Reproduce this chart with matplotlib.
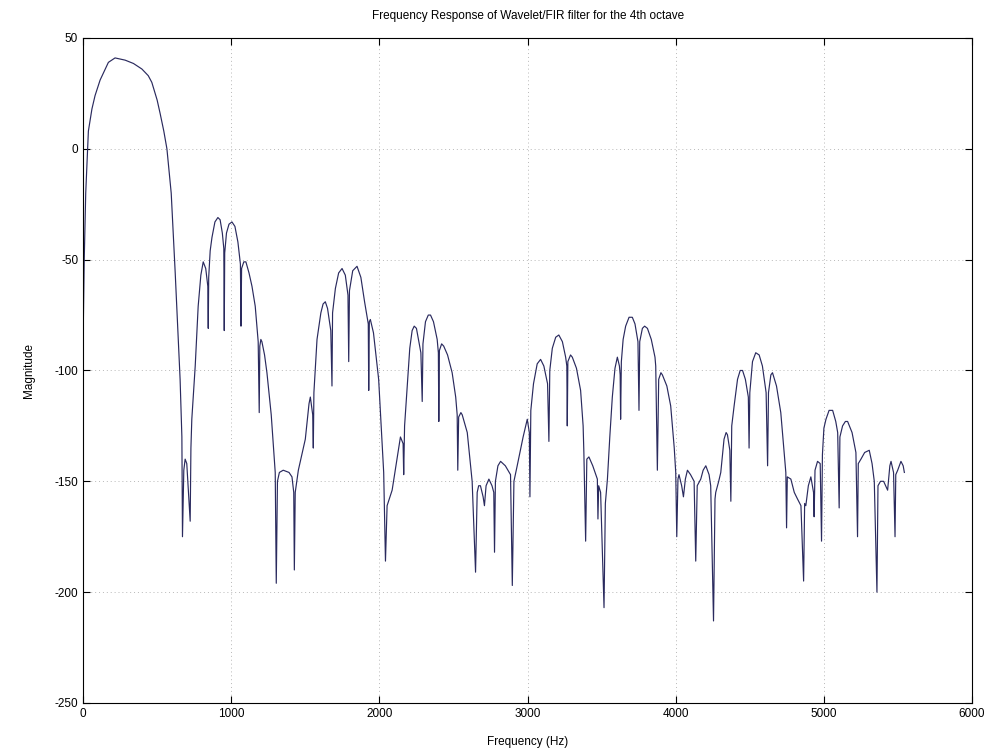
import numpy as np
import matplotlib
matplotlib.use('Agg')
import matplotlib.pyplot as plt

# frequency response (Hz, magnitude)
FREQ = [0, 8, 18, 36, 60, 81, 115, 171, 216, 284, 340, 397, 440, 464, 500,
        520, 545, 566, 595, 622, 655, 667, 671, 680, 689, 700, 723, 728, 734,
        757, 777, 795, 811, 828, 842, 845, 848, 858, 870, 890, 910, 925, 940,
        950, 953, 956, 968, 985, 1005, 1025, 1045, 1062, 1066, 1070, 1085,
        1099, 1120, 1140, 1162, 1182, 1189, 1193, 1200, 1207, 1225, 1241,
        1270, 1297, 1304, 1312, 1325, 1351, 1390, 1410, 1422, 1426, 1432,
        1453, 1500, 1525, 1534, 1550, 1554, 1558, 1579, 1605, 1620, 1635,
        1650, 1672, 1680, 1684, 1703, 1725, 1748, 1770, 1788, 1793, 1798,
        1820, 1849, 1875, 1900, 1925, 1928, 1932, 1939, 1960, 1995, 2029,
        2041, 2052, 2086, 2142, 2160, 2164, 2170, 2187, 2205, 2221, 2235,
        2250, 2280, 2289, 2294, 2311, 2330, 2345, 2365, 2390, 2398, 2401,
        2405, 2420, 2434, 2460, 2491, 2515, 2525, 2529, 2535, 2550, 2559,
        2593, 2626, 2649, 2660, 2670, 2682, 2700, 2709, 2720, 2739, 2760,
        2772, 2777, 2783, 2800, 2818, 2850, 2885, 2897, 2908, 2930, 2970,
        2998, 3012, 3016, 3022, 3040, 3065, 3088, 3110, 3135, 3144, 3150,
        3167, 3190, 3211, 3235, 3257, 3265, 3268, 3272, 3290, 3302, 3330,
        3358, 3375, 3380, 3392, 3400, 3414, 3440, 3471, 3475, 3480, 3493,
        3516, 3525, 3539, 3555, 3572, 3590, 3606, 3620, 3625, 3628, 3633,
        3645, 3662, 3685, 3707, 3725, 3745, 3752, 3757, 3775, 3790, 3809,
        3835, 3860, 3865, 3876, 3885, 3900, 3910, 3940, 3966, 3990, 4000,
        4007, 4015, 4022, 4040, 4052, 4065, 4079, 4100, 4124, 4135, 4145,
        4169, 4185, 4203, 4225, 4236, 4255, 4265, 4270, 4290, 4304, 4326,
        4340, 4349, 4365, 4372, 4378, 4394, 4417, 4435, 4451, 4470, 4490,
        4495, 4500, 4518, 4540, 4563, 4585, 4610, 4620, 4626, 4642, 4653,
        4680, 4709, 4730, 4743, 4748, 4753, 4777, 4800, 4822, 4845, 4863,
        4870, 4878, 4895, 4912, 4930, 4934, 4940, 4957, 4975, 4984, 4990,
        5000, 5014, 5035, 5059, 5080, 5093, 5103, 5108, 5126, 5145, 5160,
        5190, 5216, 5227, 5232, 5250, 5275, 5306, 5325, 5340, 5358, 5365,
        5382, 5403, 5430, 5445, 5453, 5470, 5480, 5485, 5498, 5520, 5535,
        5543]
MAG = [-88, -50, -20, 8, 18, 24, 31, 39, 41, 40, 38.5, 36, 33, 30, 22,
       16, 8, 0, -20, -56, -104, -130, -175, -145, -140, -142, -168, -135, -122,
       -98, -71, -57, -51, -54, -62, -81, -58, -46, -40, -33, -31, -32, -38,
       -45, -82, -47, -38, -34, -33, -35, -42, -52, -80, -54, -51,
       -51, -56, -62, -71, -87, -119, -89, -86, -87, -93, -101,
       -120, -146, -196, -150, -146, -145, -146, -148, -155, -190, -155,
       -145, -131, -115, -112, -120, -135, -110, -86, -74, -70, -69,
       -72, -82, -107, -74, -63, -56, -54, -57, -66, -96, -64,
       -55, -53, -58, -69, -79, -109, -78, -77, -83, -104, -146,
       -186, -161, -154, -130, -133, -147, -125, -108, -90, -82, -80,
       -81, -92, -114, -88, -78, -75, -75, -78, -86, -92, -123,
       -91, -88, -89, -93, -101, -112, -120, -145, -121, -119, -120,
       -128, -150, -191, -155, -152, -152, -157, -161, -152, -149, -152,
       -155, -182, -150, -143, -141, -143, -147, -197, -150, -143, -130,
       -122, -128, -157, -118, -106, -97, -95, -98, -106, -132, -100,
       -90, -85, -84, -87, -94, -98, -125, -96, -93, -94, -99,
       -109, -125, -137, -177, -140, -139, -143, -149, -167, -152, -155,
       -207, -160, -149, -130, -112, -99, -94, -98, -102, -122, -96,
       -86, -80, -76, -76, -79, -87, -118, -87, -81, -80, -81,
       -86, -94, -98, -145, -104, -101, -102, -107, -116, -135, -146,
       -175, -149, -147, -152, -157, -149, -145, -147, -150, -186, -152,
       -149, -145, -143, -147, -152, -213, -158, -155, -150, -146, -131,
       -128, -129, -136, -159, -125, -116, -104, -100, -100, -104, -112,
       -135, -110, -96, -92, -93, -98, -110, -143, -110, -102, -101,
       -107, -119, -136, -146, -171, -148, -149, -155, -158, -161, -195,
       -160, -161, -152, -148, -155, -166, -145, -141, -142, -177, -138,
       -126, -122, -118, -118, -123, -128, -162, -130, -125, -123, -123,
       -128, -137, -175, -142, -140, -137, -136, -142, -150, -200, -152,
       -150, -150, -154, -143, -141, -146, -175, -147, -145, -141, -143,
       -146]
assert len(FREQ) == len(MAG)

XTICKS = [0, 1000, 2000, 3000, 4000, 5000, 6000]
YTICKS = [-250, -200, -150, -100, -50, 0, 50]

plt.rcParams['font.family'] = ['Liberation Sans', 'DejaVu Sans']
plt.rcParams['axes.unicode_minus'] = False

fig = plt.figure(figsize=(9.97, 7.52), dpi=100)
ax = fig.add_axes([0.0833, 0.0652, 0.8917, 0.8843])
ax.plot(FREQ, MAG, color='#2a2a5e', linewidth=0.85)

ax.set_xlim(0, 6000)
ax.set_ylim(-250, 50)
ax.set_xticks(XTICKS)
ax.set_yticks(YTICKS)
ax.tick_params(direction='in', labelsize=8.5, length=5, top=True, right=True)
ax.grid(True, color='#b8b8b8', linestyle=(0, (1, 3)), linewidth=0.7)
for s in ax.spines.values():
    s.set_linewidth(0.8)

ax.set_title('Frequency Response of Wavelet/FIR filter for the 4th octave',
             fontsize=8.5, pad=14)
ax.set_xlabel('Frequency (Hz)', fontsize=8.5, labelpad=12)
ax.set_ylabel('Magnitude', fontsize=8.5, labelpad=14)

fig.savefig('out.png', dpi=100)
